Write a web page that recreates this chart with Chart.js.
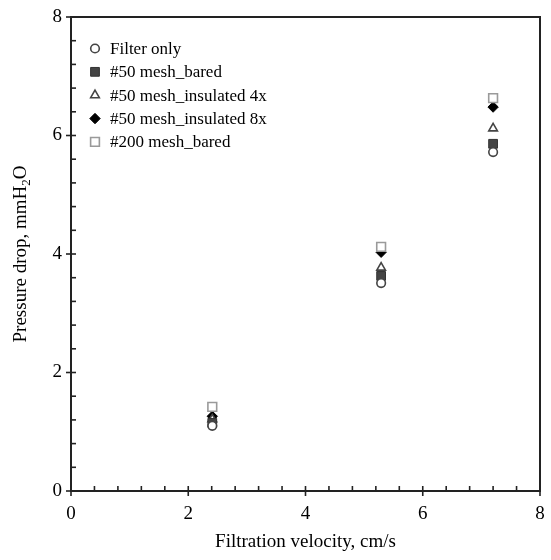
<!DOCTYPE html>
<html>
<head>
<meta charset="utf-8">
<script src="https://cdn.jsdelivr.net/npm/chart.js@4.4.1/dist/chart.umd.min.js"></script>
<style>
  html, body { margin: 0; padding: 0; background: #ffffff; }
  #wrap { width: 551px; height: 560px; }
</style>
</head>
<body>
<div id="wrap"><canvas id="c" width="551" height="560"></canvas></div>
<script>
// ---- data ----
const velocities = [2.41, 5.29, 7.2];
const filterOnly = [1.10, 3.51, 5.72];
const mesh50Bared = [1.15, 3.63, 5.86];
const mesh50Ins4x = [1.21, 3.77, 6.12];
const mesh50Ins8x = [1.26, 4.03, 6.48];
const mesh200Bared = [1.42, 4.12, 6.63];
const seriesNames = ['Filter only', '#50 mesh_bared', '#50 mesh_insulated 4x', '#50 mesh_insulated 8x', '#200 mesh_bared'];
const xTicks = [0, 2, 4, 6, 8];
const yTicks = [0, 2, 4, 6, 8];
const xTitle = 'Filtration velocity, cm/s';
const yTitleMain = 'Pressure drop, mmH';
const yTitleSub = '2';
const yTitleEnd = 'O';

const FONT = '"Liberation Serif", "Times New Roman", serif';

function pts(vals) { return velocities.map((v, i) => ({ x: v, y: vals[i] })); }

const styles = [
  { pointStyle: 'circle', radius: 4.3, bg: '#ffffff', border: '#444444', bw: 1.6, order: 0 },
  { pointStyle: 'rect', radius: 6.2, bg: '#444444', border: '#333333', bw: 1, order: 1 },
  { pointStyle: 'triangle', radius: 5, bg: '#ffffff', border: '#444444', bw: 1.6, order: 2 },
  { pointStyle: 'rectRot', radius: 5.2, bg: '#000000', border: '#000000', bw: 1, order: 4 },
  { pointStyle: 'rect', radius: 6.2, bg: '#ffffff', border: '#9a9a9a', bw: 1.6, order: 3 }
];
const seriesData = [filterOnly, mesh50Bared, mesh50Ins4x, mesh50Ins8x, mesh200Bared];

const datasets = seriesData.map((vals, i) => ({
  label: seriesNames[i],
  data: pts(vals),
  pointStyle: styles[i].pointStyle,
  pointRadius: styles[i].radius,
  pointHoverRadius: styles[i].radius,
  pointBackgroundColor: styles[i].bg,
  pointBorderColor: styles[i].border,
  pointBorderWidth: styles[i].bw,
  showLine: false,
  order: styles[i].order
}));

function drawMarker(ctx, style, x, y) {
  const r = style.radius;
  ctx.save();
  ctx.fillStyle = style.bg;
  ctx.strokeStyle = style.border;
  ctx.lineWidth = style.bw;
  ctx.beginPath();
  if (style.pointStyle === 'circle') {
    ctx.arc(x, y, r, 0, Math.PI * 2);
  } else if (style.pointStyle === 'rect') {
    const s = Math.SQRT1_2 * r;
    ctx.rect(x - s, y - s, 2 * s, 2 * s);
  } else if (style.pointStyle === 'triangle') {
    ctx.moveTo(x, y - r);
    ctx.lineTo(x + r * Math.cos(Math.PI / 6), y + r * 0.5);
    ctx.lineTo(x - r * Math.cos(Math.PI / 6), y + r * 0.5);
    ctx.closePath();
  } else if (style.pointStyle === 'rectRot') {
    ctx.moveTo(x, y - r);
    ctx.lineTo(x + r, y);
    ctx.lineTo(x, y + r);
    ctx.lineTo(x - r, y);
    ctx.closePath();
  }
  ctx.fill();
  ctx.stroke();
  ctx.restore();
}

const decor = {
  id: 'decor',
  afterDraw(chart) {
    const ctx = chart.ctx;
    const a = chart.chartArea;
    const xs = chart.scales.x, ys = chart.scales.y;
    ctx.save();
    ctx.strokeStyle = '#222222';
    ctx.lineWidth = 2;
    // frame
    ctx.beginPath();
    ctx.moveTo(a.left, a.top);
    ctx.lineTo(a.right, a.top);
    ctx.lineTo(a.right, a.bottom);
    ctx.lineTo(a.left, a.bottom);
    ctx.closePath();
    ctx.stroke();
    ctx.lineWidth = 1.6;
    // x ticks
    for (let v = 0; v <= 8.0001; v += 0.4) {
      const px = xs.getPixelForValue(v);
      const major = Math.abs(v / 2 - Math.round(v / 2)) < 1e-6;
      ctx.beginPath();
      ctx.moveTo(px, a.bottom + (major ? 5 : 0));
      ctx.lineTo(px, a.bottom - 5);
      ctx.stroke();
    }
    // y ticks
    for (let v = 0; v <= 8.0001; v += 0.4) {
      const py = ys.getPixelForValue(v);
      const major = Math.abs(v / 2 - Math.round(v / 2)) < 1e-6;
      ctx.beginPath();
      ctx.moveTo(a.left - (major ? 5 : 0), py);
      ctx.lineTo(a.left + 5, py);
      ctx.stroke();
    }
    // x title
    ctx.fillStyle = '#000000';
    ctx.font = '19px ' + FONT;
    ctx.textAlign = 'center';
    ctx.textBaseline = 'alphabetic';
    ctx.fillText(xTitle, (a.left + a.right) / 2, 547);
    // y title with subscript
    ctx.save();
    ctx.translate(26, (a.top + a.bottom) / 2);
    ctx.rotate(-Math.PI / 2);
    ctx.font = '19px ' + FONT;
    const w1 = ctx.measureText(yTitleMain).width;
    const w3 = ctx.measureText(yTitleEnd).width;
    ctx.font = '13px ' + FONT;
    const w2 = ctx.measureText(yTitleSub).width;
    const total = w1 + w2 + w3;
    let sx = -total / 2;
    ctx.textAlign = 'left';
    ctx.font = '19px ' + FONT;
    ctx.fillText(yTitleMain, sx, 0);
    sx += w1;
    ctx.font = '13px ' + FONT;
    ctx.fillText(yTitleSub, sx, 4);
    sx += w2;
    ctx.font = '19px ' + FONT;
    ctx.fillText(yTitleEnd, sx, 0);
    ctx.restore();
    // legend
    ctx.font = '17px ' + FONT;
    ctx.textAlign = 'left';
    ctx.textBaseline = 'middle';
    for (let i = 0; i < seriesNames.length; i++) {
      const ly = 48.5 + i * 23.35;
      drawMarker(ctx, styles[i], 95, ly);
      ctx.fillStyle = '#000000';
      ctx.fillText(seriesNames[i], 110, ly + 1);
    }
    ctx.restore();
  }
};

function zeroPad(s) { s.paddingTop = 0; s.paddingBottom = 0; s.paddingLeft = 0; s.paddingRight = 0; }

new Chart(document.getElementById('c'), {
  type: 'scatter',
  data: { datasets },
  options: {
    responsive: false,
    animation: false,
    devicePixelRatio: 1,
    layout: { padding: { left: 0, top: 17, right: 11, bottom: 0 } },
    plugins: { legend: { display: false }, tooltip: { enabled: false } },
    scales: {
      x: {
        type: 'linear', min: 0, max: 8,
        afterBuildTicks(s) { s.ticks = xTicks.map(v => ({ value: v })); },
        afterFit(s) { s.height = 69; zeroPad(s); },
        grid: { display: false, drawTicks: false },
        border: { display: false },
        ticks: { color: '#000', font: { family: FONT, size: 19 }, padding: 12, maxRotation: 0 }
      },
      y: {
        type: 'linear', min: 0, max: 8,
        afterBuildTicks(s) { s.ticks = yTicks.map(v => ({ value: v })); },
        afterFit(s) { s.width = 71; zeroPad(s); },
        grid: { display: false, drawTicks: false },
        border: { display: false },
        ticks: { color: '#000', font: { family: FONT, size: 19 }, padding: 9 }
      }
    }
  },
  plugins: [decor]
});
</script>
</body>
</html>
